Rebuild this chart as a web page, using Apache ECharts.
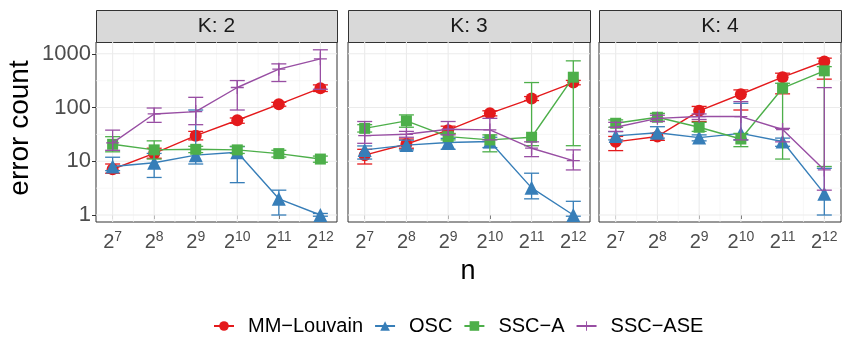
<!DOCTYPE html>
<html lang="en">
<head>
<meta charset="UTF-8">
<title>error count</title>
<script src="https://cdn.jsdelivr.net/npm/echarts@6/dist/echarts.min.js"></script>
<style>
  html, body { margin: 0; padding: 0; background: #fff; }
  #chart { width: 850px; height: 350px; }
</style>
</head>
<body>
<div id="chart"></div>
<script>
// x is log2(n), y is drawn on a log10 scale
var nExp = [7, 8, 9, 10, 11, 12];
var kValues = [2, 3, 4];
var methods = ['MM−Louvain', 'OSC', 'SSC−A', 'SSC−ASE'];
var yTicks = [1, 10, 100, 1000];

// rows: K = 2, 3, 4
var mmMean = [[7.1, 14, 30, 58, 115, 229], [13, 21, 38, 78, 147, 292], [23, 29, 87, 177, 367, 720]];
var mmLow  = [[6.0, 11.4, 25, 51, 106, 199], [8.9, 17.5, 32.5, 70, 135, 265], [15.8, 24.5, 55, 90, 180, 338]];
var mmHigh = [[8.9, 17.5, 36, 64, 125, 264], [16.7, 26, 45, 87, 160, 320], [29, 33, 105, 213, 436, 830]];

var oscMean = [[8, 9.4, 13, 14.7, 2.0, 1], [16.3, 20, 22.3, 23.3, 3.2, 1], [29.7, 34, 27.6, 33, 23.3, 2.5]];
var oscLow  = [[6.7, 5.0, 8.9, 4.0, 1.0, 0.95], [11, 16.3, 16.7, 18, 2.0, 0.95], [25, 27, 24, 25, 19, 1.0]];
var oscHigh = [[11.9, 14, 90, 18.7, 2.9, 1.07], [19.3, 24.7, 26.7, 28, 6.0, 1.8], [35.6, 44, 31, 120, 27, 7.4]];

var sscaMean = [[20.7, 16.3, 16.7, 16.3, 13.9, 11], [41, 56.6, 28.8, 25, 28, 367], [51, 66, 43, 26, 229, 482]];
var sscaLow  = [[15, 11, 14.5, 14, 12, 9.6], [35, 43, 25, 15, 19.5, 19.5], [43, 56, 36, 18.7, 11, 8]];
var sscaHigh = [[28.7, 24, 19, 19, 16, 12.5], [48, 73, 33, 31, 292, 740], [59, 78, 53, 33, 283, 578]];

var aseMean = [[22, 76, 84, 236, 518, 807], [30, 31.8, 39.5, 38.4, 17.5, 10.3], [43, 63, 68, 68, 39, 6.9]];
var aseLow  = [[16, 53, 48, 90, 305, 219], [21.6, 28, 31, 25, 12.2, 6.9], [36, 55, 60, 25, 23, 2.9]];
var aseHigh = [[38, 98, 155, 318, 650, 1188], [55, 36, 55, 63, 23, 16.3], [53, 72, 76, 129, 41, 235]];

var colors = ['#E41A1C', '#377EB8', '#4DAF4A', '#984EA3'];
var symbols = ['circle', 'triangle', 'rect', 'path://M0,4.5h10v1h-10zM4.5,0h1v10h-1z'];
var symbolSizes = [12, 14, 11, 13];
var means = [mmMean, oscMean, sscaMean, aseMean];
var lows = [mmLow, oscLow, sscaLow, aseLow];
var highs = [mmHigh, oscHigh, sscaHigh, aseHigh];

var font = 'Liberation Sans, Arial, sans-serif';
var panelLeft = [96, 348, 599];
var panelWidth = [241, 242, 242];
var panelTop = 42, panelHeight = 180;

function log10(v) { return Math.log(v) / Math.LN10; }

// background grid lines, drawn through the axes
function renderGrid(params, api) {
    var cs = params.coordSys;
    var dir = api.value(0), v = api.value(1), major = api.value(2);
    var shape;
    if (dir === 0) {
        var px = api.coord([v, 1])[0];
        shape = {x1: px, y1: cs.y, x2: px, y2: cs.y + cs.height};
    } else {
        var py = api.coord([8, v])[1];
        shape = {x1: cs.x, y1: py, x2: cs.x + cs.width, y2: py};
    }
    return {
        type: 'line', shape: shape, silent: true,
        style: {stroke: major ? '#EBEBEB' : '#F3F3F3', lineWidth: major ? 1.1 : 0.7}
    };
}

function renderBar(params, api) {
    var x = api.value(0);
    var lo = api.coord([x, api.value(1)]);
    var hi = api.coord([x, api.value(2)]);
    var hw = 7.5;
    var st = {stroke: api.visual('color'), lineWidth: 1.3};
    return {type: 'group', children: [
        {type: 'line', shape: {x1: lo[0], y1: lo[1], x2: hi[0], y2: hi[1]}, style: st},
        {type: 'line', shape: {x1: lo[0] - hw, y1: lo[1], x2: lo[0] + hw, y2: lo[1]}, style: st},
        {type: 'line', shape: {x1: hi[0] - hw, y1: hi[1], x2: hi[0] + hw, y2: hi[1]}, style: st}
    ]};
}

var gridLineData = [];
nExp.forEach(function (e) { gridLineData.push([0, e, 1]); });
for (var e = 7.5; e < 12; e++) gridLineData.push([0, e, 0]);
yTicks.forEach(function (t) { gridLineData.push([1, log10(t), 1]); });
[0.5, 1.5, 2.5].forEach(function (t) { gridLineData.push([1, t, 0]); });

var grids = [], xAxes = [], yAxes = [], series = [], graphics = [];
kValues.forEach(function (k, p) {
    grids.push({
        left: panelLeft[p], top: panelTop, width: panelWidth[p], height: panelHeight,
        show: true, backgroundColor: '#fff', borderColor: '#333', borderWidth: 1, z: 0
    });
    xAxes.push({
        type: 'value', gridIndex: p, min: 6.6, max: 12.4,
        axisLine: {show: false}, splitLine: {show: false},
        axisTick: {show: true, customValues: nExp, length: 4, lineStyle: {color: '#333'}},
        axisLabel: {
            customValues: nExp, margin: 8, color: '#4D4D4D', fontFamily: font, fontSize: 20,
            formatter: function (v) { return '2{s|' + v + '}'; },
            rich: {s: {fontSize: 14, fontFamily: font, color: '#4D4D4D', verticalAlign: 'top', padding: [0, 0, 10, 0]}}
        }
    });
    yAxes.push({
        type: 'value', gridIndex: p, min: -0.13, max: 3.22,
        axisLine: {show: false}, splitLine: {show: false},
        axisTick: {show: p === 0, customValues: yTicks.map(log10), length: 4, lineStyle: {color: '#333'}},
        axisLabel: {
            show: p === 0, customValues: yTicks.map(log10), margin: 5,
            color: '#4D4D4D', fontFamily: font, fontSize: 22,
            formatter: function (v) { return String(Math.round(Math.pow(10, v))); }
        }
    });
    series.push({
        type: 'custom', name: 'grid' + p, xAxisIndex: p, yAxisIndex: p, z: 1, silent: true,
        renderItem: renderGrid, data: gridLineData
    });
    methods.forEach(function (m, j) {
        var pts = [], bars = [];
        nExp.forEach(function (x, i) {
            pts.push([x, log10(means[j][p][i])]);
            bars.push([x, log10(lows[j][p][i]), log10(highs[j][p][i])]);
        });
        series.push({
            type: 'line', name: m, xAxisIndex: p, yAxisIndex: p, z: 3 + j,
            data: pts, symbol: symbols[j], symbolSize: symbolSizes[j], showAllSymbol: true,
            color: colors[j], itemStyle: {color: colors[j]},
            lineStyle: {color: colors[j], width: 1.4}, animation: false
        });
        series.push({
            type: 'custom', name: m + ' bars', xAxisIndex: p, yAxisIndex: p, z: 3 + j,
            color: colors[j], itemStyle: {color: colors[j]},
            encode: {x: 0, y: [1, 2]}, renderItem: renderBar, data: bars, animation: false
        });
    });
    graphics.push({
        type: 'rect', left: panelLeft[p], top: 10,
        shape: {width: panelWidth[p], height: 32},
        style: {fill: '#D9D9D9', stroke: '#333', lineWidth: 1}
    });
    graphics.push({
        type: 'text', x: panelLeft[p] + panelWidth[p] / 2, y: 26,
        style: {text: 'K: ' + k, fontSize: 21, fontFamily: font, fill: '#1A1A1A', align: 'center', verticalAlign: 'middle'}
    });
});

graphics.push({
    type: 'text', x: 468, y: 272,
    style: {text: 'n', fontSize: 27, fontFamily: font, fill: '#000', align: 'center', verticalAlign: 'middle'}
});
graphics.push({
    type: 'text', x: 20, y: 128, rotation: Math.PI / 2,
    style: {text: 'error count', fontSize: 28, fontFamily: font, fill: '#000', align: 'center', verticalAlign: 'middle'}
});

var myChart = echarts.init(document.getElementById('chart'));
var option = {
    animation: false,
    backgroundColor: '#fff',
    grid: grids,
    xAxis: xAxes,
    yAxis: yAxes,
    legend: {
        data: methods, left: 208, top: 311, itemWidth: 20, itemHeight: 12, itemGap: 11,
        selectedMode: false,
        textStyle: {fontSize: 20, fontFamily: font, color: '#000', padding: [0, 0, 0, 9]}
    },
    graphic: graphics,
    series: series
};
myChart.setOption(option);
</script>
</body>
</html>
